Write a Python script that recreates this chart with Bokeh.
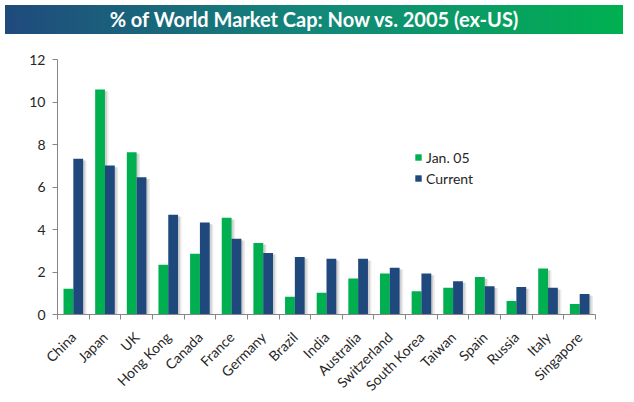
import math
from bokeh.plotting import figure
from bokeh.models import (ColumnDataSource, FixedTicker, Range1d, Legend, LegendItem, Div)
from bokeh.layouts import column
from bokeh.transform import dodge
from bokeh.embed import file_html
from bokeh.resources import INLINE

countries = ["China", "Japan", "UK", "Hong Kong", "Canada", "France", "Germany", "Brazil",
             "India", "Australia", "Switzerland", "South Korea", "Taiwan", "Spain", "Russia",
             "Italy", "Singapore"]
jan05 = [1.21, 10.59, 7.64, 2.34, 2.86, 4.55, 3.37, 0.83, 1.02, 1.69, 1.93, 1.10, 1.26, 1.76, 0.63, 2.16, 0.50]
current = [7.33, 7.01, 6.46, 4.69, 4.33, 3.56, 2.90, 2.71, 2.62, 2.62, 2.20, 1.93, 1.57, 1.33, 1.29, 1.26, 0.97]
y_ticks = [0, 2, 4, 6, 8, 10, 12]

GREEN = "#00B050"
BLUE = "#1F497D"
FONT = "Lato"

idx = list(range(len(countries)))
src = ColumnDataSource(dict(x=idx, jan05=jan05, current=current,
                            jan05_s=[v - 0.08 for v in jan05],
                            current_s=[v - 0.08 for v in current]))

title = Div(text="% of World Market Cap: Now vs. 2005 (ex-US)", width=618, height=29,
            styles={"background": "linear-gradient(to right, #1F4A7C, #13877A 50%, #00B050)",
                    "color": "white", "font-family": FONT, "font-weight": "bold",
                    "font-size": "20px", "text-align": "center", "line-height": "29px",
                    "width": "618px", "height": "29px", "box-sizing": "border-box"})

p = figure(frame_width=538, frame_height=255, output_backend="svg", toolbar_location=None,
           x_range=Range1d(-0.5, len(countries) - 0.5), y_range=Range1d(0, 12),
           min_border_left=57, min_border_right=10, min_border_top=20, min_border_bottom=10)
p.outline_line_color = None
p.xgrid.visible = False
p.ygrid.visible = False
p.background_fill_color = "white"
p.border_fill_color = "white"

bw = 0.31
off = 0.155
# soft shadows
for k, a in [(0.06, 0.35), (0.11, 0.2)]:
    p.vbar(x=dodge("x", -off + k, range=p.x_range), top="jan05_s", width=bw, source=src,
           fill_color="#9a9a9a", fill_alpha=a, line_color=None)
    p.vbar(x=dodge("x", off + k, range=p.x_range), top="current_s", width=bw, source=src,
           fill_color="#9a9a9a", fill_alpha=a, line_color=None)

r1 = p.vbar(x=dodge("x", -off, range=p.x_range), top="jan05", width=bw, source=src,
            fill_color=GREEN, line_color=None)
r2 = p.vbar(x=dodge("x", off, range=p.x_range), top="current", width=bw, source=src,
            fill_color=BLUE, line_color=None)

# y axis
p.yaxis.ticker = FixedTicker(ticks=y_ticks)
p.yaxis.axis_line_color = "#868686"
p.yaxis.major_tick_line_color = "#868686"
p.yaxis.major_tick_in = 0
p.yaxis.major_tick_out = 5
p.yaxis.minor_tick_line_color = None
p.yaxis.major_label_text_font = FONT
p.yaxis.major_label_text_font_size = "14px"
p.yaxis.major_label_text_color = "#262626"
p.yaxis.major_label_standoff = 7

# x axis: labels at category centres, ticks between categories
p.xaxis.ticker = FixedTicker(ticks=idx, minor_ticks=[i - 0.5 for i in range(len(countries) + 1)])
p.xaxis.major_label_overrides = {i: c for i, c in enumerate(countries)}
p.xaxis.axis_line_color = "#868686"
p.xaxis.major_tick_line_color = None
p.xaxis.major_tick_in = 0
p.xaxis.major_tick_out = 0
p.xaxis.minor_tick_line_color = "#868686"
p.xaxis.minor_tick_in = 0
p.xaxis.minor_tick_out = 5
p.xaxis.major_label_orientation = math.pi / 4
p.xaxis.major_label_text_font = FONT
p.xaxis.major_label_text_font_size = "14px"
p.xaxis.major_label_text_color = "#262626"
p.xaxis.major_label_standoff = 15

legend = Legend(items=[LegendItem(label="Jan. 05", renderers=[r1]),
                       LegendItem(label="Current", renderers=[r2])],
                location=(357, 126), orientation="vertical",
                glyph_width=8, glyph_height=8, label_height=20, spacing=1,
                label_standoff=4, padding=0, margin=0,
                border_line_color=None, background_fill_alpha=0,
                label_text_font=FONT, label_text_font_size="14px",
                label_text_color="#262626")
p.add_layout(legend, "center")

layout = column(title, p)
open("out.html", "w").write(file_html(layout, INLINE))
